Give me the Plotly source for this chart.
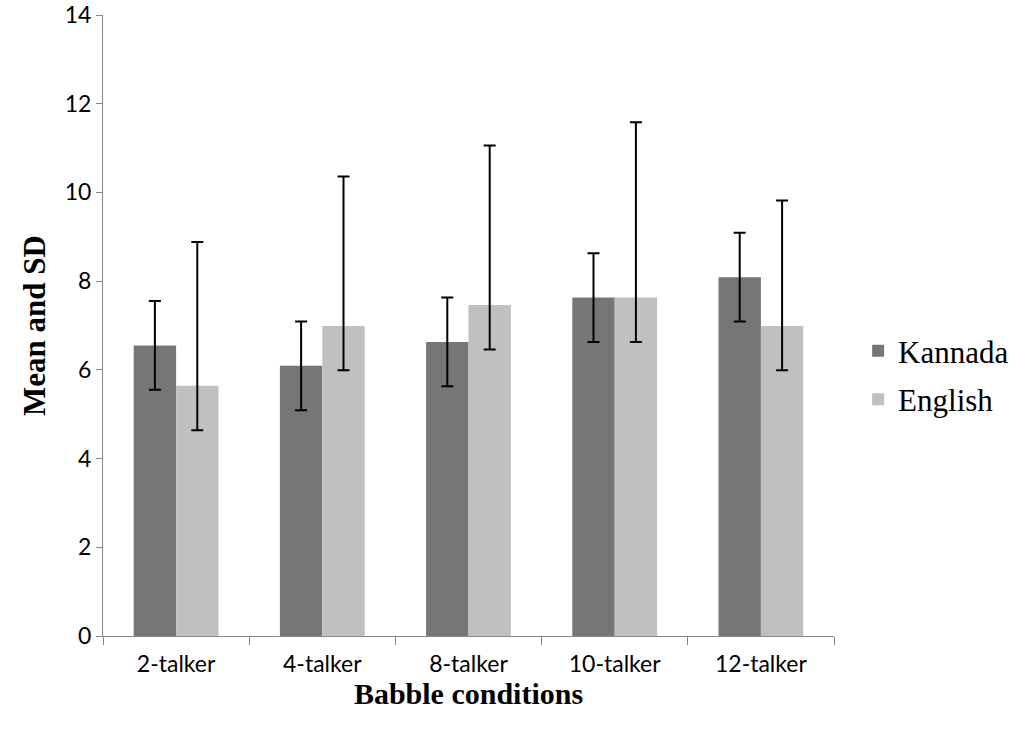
import plotly.graph_objects as go

categories = ["2-talker", "4-talker", "8-talker", "10-talker", "12-talker"]
kannada_mean = [6.55, 6.09, 6.63, 7.63, 8.09]
kannada_err_plus = [1.0, 1.0, 1.0, 1.0, 1.0]
kannada_err_minus = [1.0, 1.0, 1.0, 1.0, 1.0]
english_mean = [5.64, 6.99, 7.46, 7.63, 6.99]
english_err_plus = [3.24, 3.37, 3.60, 3.95, 2.83]
english_err_minus = [1.0, 1.0, 1.0, 1.0, 1.0]
y_ticks = [0, 2, 4, 6, 8, 10, 12, 14]

fig = go.Figure()
fig.add_trace(go.Bar(
    x=categories, y=kannada_mean, name="Kannada", legendgroup="k",
    marker=dict(color="#767676", line=dict(width=0)),
    error_y=dict(type="data", symmetric=False, array=kannada_err_plus,
                 arrayminus=kannada_err_minus, color="black", thickness=2, width=6),
))
fig.add_trace(go.Bar(
    x=categories, y=english_mean, name="English", legendgroup="e",
    marker=dict(color="#c0c0c0", line=dict(width=0)),
    error_y=dict(type="data", symmetric=False, array=english_err_plus,
                 arrayminus=english_err_minus, color="black", thickness=2, width=6),
))

fig.update_layout(
    width=1027, height=730,
    margin=dict(l=103, r=193, t=15, b=94),
    paper_bgcolor="white", plot_bgcolor="white",
    barmode="group", bargap=0.42, bargroupgap=0,
    showlegend=True,
    legend=dict(x=1.033, y=0.42, xanchor="left", yanchor="middle",
                font=dict(family="Liberation Serif", size=31, color="black"),
                tracegroupgap=5, traceorder="grouped", itemwidth=30),
    xaxis=dict(
        tickson="boundaries", ticks="outside", ticklen=8, tickcolor="#868686",
        showline=True, linecolor="#868686", linewidth=1, automargin=False,
        ticklabelstandoff=7,
        tickfont=dict(family="Lato", size=23, color="black"),
        title=dict(text="<b>Babble conditions</b>", standoff=0,
                   font=dict(family="Liberation Serif", size=30, color="black")),
    ),
    yaxis=dict(
        range=[0, 14], tickvals=y_ticks, ticks="outside", ticklen=6, tickcolor="#868686",
        showline=True, linecolor="#868686", linewidth=1, showgrid=False, zeroline=False,
        automargin=False, ticklabeloverflow="allow",
        tickfont=dict(family="Lato", size=23, color="black"),
        title=dict(text="<b>Mean and SD</b>", standoff=9,
                   font=dict(family="Liberation Serif", size=31, color="black")),
    ),
)

fig.write_html("out.html", config={"displayModeBar": False},
               post_script="document.body.style.margin='0';")
